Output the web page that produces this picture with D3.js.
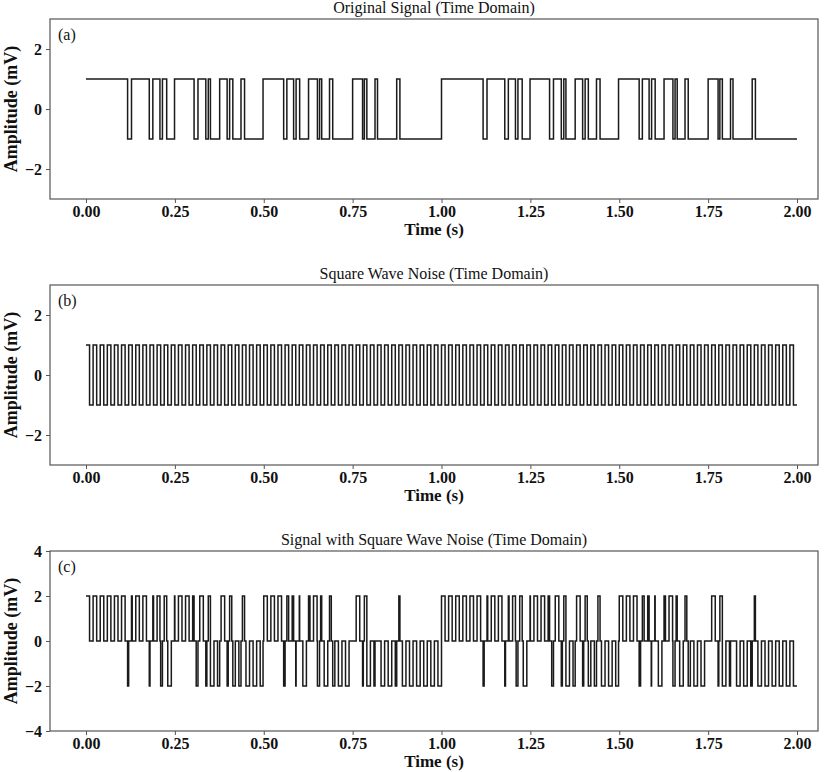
<!DOCTYPE html>
<html>
<head>
<meta charset="utf-8">
<script src="https://cdn.jsdelivr.net/npm/d3@7"></script>
<style>
  body { margin: 0; background: #fff; }
  svg { display: block; }
  .tick text { font-family: "Liberation Serif", "DejaVu Serif", serif; font-size: 16px; font-weight: bold; fill: #111; }
  .axis path, .axis line { stroke: #555; }
</style>
</head>
<body>
<svg></svg>
<script>
// times (s) where the original binary signal toggles; it starts at +1
var signalEdges = [
  0.117, 0.128, 0.178, 0.188, 0.208, 0.215, 0.227, 0.249, 0.304, 0.315,
  0.337, 0.344, 0.350, 0.376, 0.397, 0.404, 0.413, 0.436, 0.446, 0.498,
  0.556, 0.565, 0.584, 0.591, 0.601, 0.626, 0.651, 0.657, 0.663, 0.685,
  0.694, 0.750, 0.778, 0.783, 0.790, 0.813, 0.820, 0.874, 0.883, 1.000,
  1.117, 1.128, 1.178, 1.188, 1.208, 1.215, 1.227, 1.249, 1.304, 1.315,
  1.337, 1.344, 1.350, 1.376, 1.397, 1.404, 1.413, 1.436, 1.446, 1.498,
  1.556, 1.565, 1.584, 1.591, 1.601, 1.626, 1.651, 1.657, 1.663, 1.685,
  1.694, 1.750, 1.778, 1.783, 1.790, 1.813, 1.820, 1.874, 1.883
];
var signalStart = 1;

// square wave noise, one level per 0.01 s slot (50 Hz)
var noiseStep = 0.01;
var noiseLevels = [
  1,-1,1,-1,1,-1,1,-1,1,-1, 1,-1,1,-1,1,-1,1,-1,1,-1,
  1,-1,1,-1,1,-1,1,-1,1,-1, 1,-1,1,-1,1,-1,1,-1,1,-1,
  1,-1,1,-1,1,-1,1,-1,1,-1, 1,-1,1,-1,1,-1,1,-1,1,-1,
  1,-1,1,-1,1,-1,1,-1,1,-1, 1,-1,1,-1,1,-1,1,-1,1,-1,
  1,-1,1,-1,1,-1,1,-1,1,-1, 1,-1,1,-1,1,-1,1,-1,1,-1,
  1,-1,1,-1,1,-1,1,-1,1,-1, 1,-1,1,-1,1,-1,1,-1,1,-1,
  1,-1,1,-1,1,-1,1,-1,1,-1, 1,-1,1,-1,1,-1,1,-1,1,-1,
  1,-1,1,-1,1,-1,1,-1,1,-1, 1,-1,1,-1,1,-1,1,-1,1,-1,
  1,-1,1,-1,1,-1,1,-1,1,-1, 1,-1,1,-1,1,-1,1,-1,1,-1,
  1,-1,1,-1,1,-1,1,-1,1,-1, 1,-1,1,-1,1,-1,1,-1,1,-1
];

var tEnd = 2.0;
var xTicks = [0, 0.25, 0.5, 0.75, 1.0, 1.25, 1.5, 1.75, 2.0];
var titles = ["Original Signal (Time Domain)", "Square Wave Noise (Time Domain)", "Signal with Square Wave Noise (Time Domain)"];
var tags = ["(a)", "(b)", "(c)"];
var yDomains = [[-3, 3], [-3, 3], [-4, 4]];
var yTicks = [[-2, 0, 2], [-2, 0, 2], [-4, -2, 0, 2, 4]];

var screen = {width: 837, height: 772};
var frame = {left: 50, right: 818, height: 180};
var panelTops = [19, 285, 551];
var serif = '"Liberation Serif", "DejaVu Serif", serif';

// level of each series at time t
var signalAt = function(t)
{
    var level = signalStart;
    signalEdges.forEach(function(e){ if (e <= t) level = -level; });
    return level;
}
var noiseAt = function(t)
{
    var i = Math.min(Math.floor(t / noiseStep + 1e-9), noiseLevels.length - 1);
    return noiseLevels[i];
}

var signalPts = [{t: 0, v: signalStart}];
signalEdges.forEach(function(e){ signalPts.push({t: e, v: signalAt(e)}); });
signalPts.push({t: tEnd, v: signalAt(tEnd)});

var noisePts = noiseLevels.map(function(v, i){ return {t: i * noiseStep, v: v}; });
noisePts.push({t: tEnd, v: noiseLevels[noiseLevels.length - 1]});

var allTimes = signalEdges.concat(noiseLevels.map(function(v, i){ return i * noiseStep; }));
allTimes = Array.from(new Set(allTimes.map(function(t){ return +t.toFixed(4); }))).sort(d3.ascending);
var mixPts = allTimes.map(function(t){ return {t: t, v: signalAt(t) + noiseAt(t)}; });
mixPts.push({t: tEnd, v: signalAt(tEnd) + noiseAt(tEnd - 1e-6)});

var series = [signalPts, noisePts, mixPts];

var svg = d3.select("svg")
    .attr("width", screen.width)
    .attr("height", screen.height);

var xScale = d3.scaleLinear()
    .domain([0, 2])
    .range([86, 797]);

series.forEach(function(pts, k)
{
    var top = panelTops[k];
    var bottom = top + frame.height;
    var yScale = d3.scaleLinear().domain(yDomains[k]).range([bottom, top]);

    var g = svg.append("g");

    g.append("g")
    .attr("class", "axis")
    .attr("transform", "translate(0," + bottom + ")")
    .call(d3.axisBottom(xScale).tickValues(xTicks).tickFormat(d3.format(".2f")).tickSize(4).tickPadding(3).tickSizeOuter(0))
    .select(".domain").remove();

    g.append("g")
    .attr("class", "axis")
    .attr("transform", "translate(" + frame.left + ",0)")
    .call(d3.axisLeft(yScale).tickValues(yTicks[k]).tickFormat(d3.format("d")).tickSize(4).tickPadding(4))
    .select(".domain").remove();

    g.append("rect")
    .attr("x", frame.left)
    .attr("y", top)
    .attr("width", frame.right - frame.left)
    .attr("height", frame.height)
    .attr("fill", "none")
    .attr("stroke", "#555")
    .attr("stroke-width", 1.2);

    var lineGenerator = d3.line()
    .x(function(d){ return xScale(d.t); })
    .y(function(d){ return yScale(d.v); })
    .curve(d3.curveStepAfter);

    g.append("path")
    .datum(pts)
    .attr("d", lineGenerator)
    .attr("fill", "none")
    .attr("stroke", "#1a1a1a")
    .attr("stroke-width", 1.5);

    g.append("text")
    .attr("x", (frame.left + frame.right) / 2)
    .attr("y", top - 6)
    .attr("text-anchor", "middle")
    .attr("font-family", serif)
    .attr("font-size", 16)
    .attr("fill", "#111")
    .text(titles[k]);

    g.append("text")
    .attr("x", frame.left + 8)
    .attr("y", top + 21)
    .attr("font-family", serif)
    .attr("font-size", 16)
    .attr("fill", "#111")
    .text(tags[k]);

    g.append("text")
    .attr("x", (frame.left + frame.right) / 2)
    .attr("y", bottom + 36)
    .attr("text-anchor", "middle")
    .attr("font-family", serif)
    .attr("font-size", 17)
    .attr("font-weight", "bold")
    .attr("fill", "#111")
    .text("Time (s)");

    g.append("text")
    .attr("transform", "translate(17," + (top + frame.height / 2) + ") rotate(-90)")
    .attr("text-anchor", "middle")
    .attr("font-family", serif)
    .attr("font-size", 18)
    .attr("font-weight", "bold")
    .attr("fill", "#111")
    .text("Amplitude (mV)");
});
</script>
</body>
</html>
